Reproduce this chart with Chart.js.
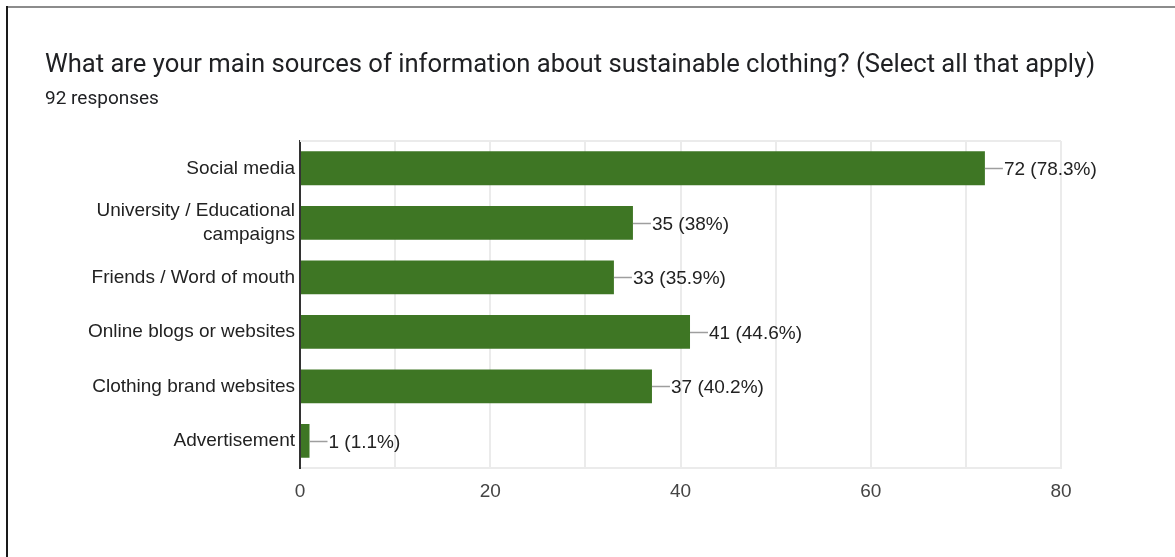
<!DOCTYPE html>
<html>
<head>
<meta charset="utf-8">
<script src="https://cdn.jsdelivr.net/npm/chart.js@4.4.1/dist/chart.umd.min.js"></script>
<style>
  html, body { margin: 0; padding: 0; background: #fff; }
  #wrap { position: relative; width: 1175px; height: 557px; overflow: hidden; }
  #frameTop { position: absolute; left: 6px; top: 6px; right: 0; height: 2px; background: #8c8c8c; }
  #frameLeft { position: absolute; left: 6px; top: 6px; bottom: 0; width: 2px; background: #1a1a1a; }
  #title { position: absolute; left: 45px; top: 47px; font: 25.6px Roboto, sans-serif; line-height: 32px; color: #202124; white-space: nowrap; }
  #subtitle { position: absolute; left: 45px; top: 86px; font: 19px Roboto, sans-serif; line-height: 24px; color: #202124; }
  #chartBox { position: absolute; left: 0; top: 0; width: 1175px; height: 557px; }
</style>
</head>
<body>
<div id="wrap">
  <div id="frameTop"></div>
  <div id="frameLeft"></div>
  <div id="chartBox"><canvas id="chartSources"></canvas></div>
  <div id="title">What are your main sources of information about sustainable clothing? (Select all that apply)</div>
  <div id="subtitle">92 responses</div>
</div>
<script>
document.addEventListener('DOMContentLoaded', function() {

    // Survey answers
    const totalResponses = 92;
    const sources = [
        'Social media',
        ['University / Educational', 'campaigns'],
        'Friends / Word of mouth',
        'Online blogs or websites',
        'Clothing brand websites',
        'Advertisement'
    ];
    const counts = [72, 35, 33, 41, 37, 1];
    const xTicks = [0, 20, 40, 60, 80];

    const barGreen = '#3e7624';

    function percentText(n) {
        const p = Math.round(n / totalResponses * 1000) / 10;
        return n + ' (' + p + '%)';
    }

    // top frame line of the plot area
    const plotFrame = {
        id: 'plotFrame',
        beforeDatasetsDraw(chart) {
            const a = chart.chartArea;
            const ctx = chart.ctx;
            ctx.save();
            ctx.strokeStyle = '#ebebeb';
            ctx.lineWidth = 2;
            ctx.beginPath();
            ctx.moveTo(a.left, a.top);
            ctx.lineTo(a.right, a.top);
            ctx.stroke();
            ctx.restore();
        }
    };

    // count + percent next to each bar, with a short leader line
    const valueLabels = {
        id: 'valueLabels',
        afterDatasetsDraw(chart) {
            const ctx = chart.ctx;
            const meta = chart.getDatasetMeta(0);
            ctx.save();
            ctx.font = '19px "Liberation Sans", Arial, sans-serif';
            ctx.textBaseline = 'middle';
            meta.data.forEach(function(bar, i) {
                const x = bar.x;
                const y = Math.round(bar.y) + 0.5;
                ctx.strokeStyle = '#9e9e9e';
                ctx.lineWidth = 1.5;
                ctx.beginPath();
                ctx.moveTo(x, y);
                ctx.lineTo(x + 18, y);
                ctx.stroke();
                ctx.fillStyle = '#222';
                ctx.fillText(percentText(counts[i]), x + 19, y + 1);
            });
            ctx.restore();
        }
    };

    new Chart(document.getElementById('chartSources'), {
        type: 'bar',
        data: {
            labels: sources,
            datasets: [{
                data: counts,
                backgroundColor: barGreen,
                borderWidth: 0,
                categoryPercentage: 1,
                barPercentage: 0.62
            }]
        },
        options: {
            responsive: true,
            maintainAspectRatio: false,
            animation: false,
            indexAxis: 'y',
            layout: { padding: { left: 0, right: 114, top: 141, bottom: 42 } },
            plugins: {
                legend: { display: false },
                tooltip: { enabled: false }
            },
            scales: {
                x: {
                    min: 0,
                    max: 80,
                    afterBuildTicks(scale) {
                        const t = [];
                        for (let v = 0; v <= 80; v += 10) t.push({ value: v });
                        scale.ticks = t;
                    },
                    ticks: {
                        autoSkip: false,
                        maxRotation: 0,
                        padding: 12,
                        color: '#444',
                        font: { family: '"Liberation Sans", Arial, sans-serif', size: 19 },
                        callback: function(v) { return xTicks.includes(v) ? String(v) : ''; }
                    },
                    grid: { color: '#ebebeb', lineWidth: 2, drawTicks: false },
                    border: { color: '#ebebeb', width: 2 }
                },
                y: {
                    afterFit(scale) { scale.width = 300; },
                    ticks: {
                        padding: 5,
                        color: '#222',
                        font: { family: '"Liberation Sans", Arial, sans-serif', size: 19, lineHeight: 1.3 }
                    },
                    grid: { display: false, drawTicks: false, tickLength: 0 },
                    border: { color: '#333', width: 2 }
                }
            }
        },
        plugins: [plotFrame, valueLabels]
    });

});
</script>
</body>
</html>
